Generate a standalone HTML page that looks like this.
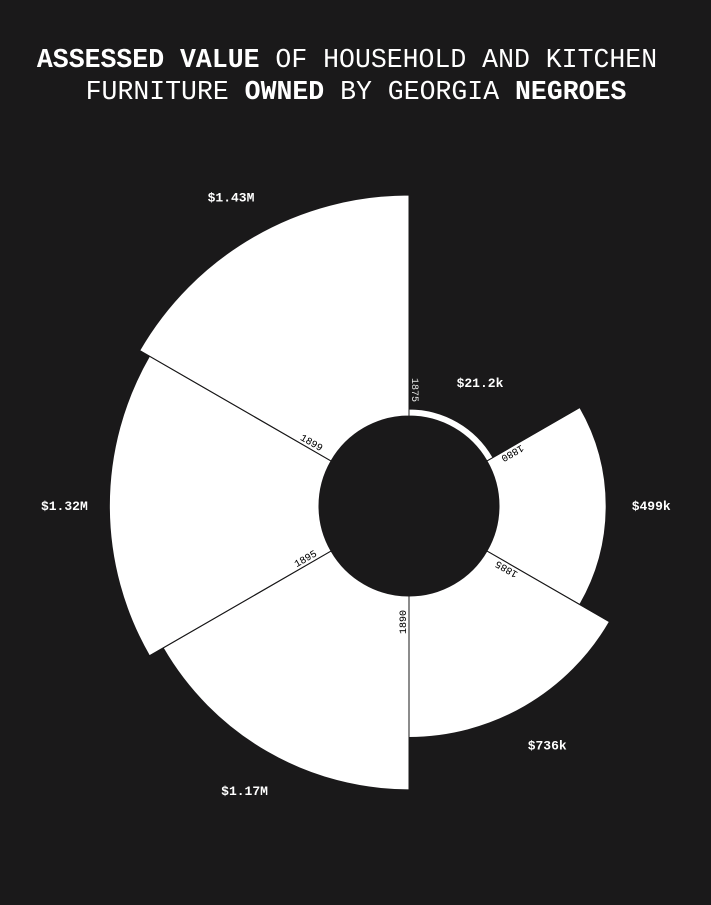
<!DOCTYPE html>
<html><head><meta charset="utf-8"><style>
html,body{margin:0;padding:0;background:#1a191a;}
svg{display:block}
</style></head><body>
<svg id="chart" width="711" height="905" viewBox="0 0 711 905">
<rect width="711" height="905" fill="#1a191a"/>
<text x="347" y="67" text-anchor="middle" font-family="Liberation Mono, monospace" font-size="26.5" fill="#fff"><tspan font-weight="bold">ASSESSED VALUE</tspan> OF HOUSEHOLD AND KITCHEN</text>
<text x="356" y="99" text-anchor="middle" font-family="Liberation Mono, monospace" font-size="26.5" fill="#fff">FURNITURE <tspan font-weight="bold">OWNED</tspan> BY GEORGIA <tspan font-weight="bold">NEGROES</tspan></text>
<g id="sectors"></g>
<g id="labels"></g>
</svg>
<script>
const years = ['1875','1880','1885','1890','1895','1899'];
const values = [21186, 498532, 736170, 1173624, 1322694, 1434975];
const valueLabels = ['$21.2k','$499k','$736k','$1.17M','$1.32M','$1.43M'];
const NS='http://www.w3.org/2000/svg';
const cx=409, cy=506, r0=90, r1=311, maxV=1434975;
function rScale(v){return Math.sqrt(r0*r0+(r1*r1-r0*r0)*v/maxV);}
function aScale(i){return i*2*Math.PI/years.length;}
function pt(a,r){return [cx+r*Math.sin(a), cy-r*Math.cos(a)];}
const gs=document.getElementById('sectors'), gl=document.getElementById('labels');
years.forEach((y,i)=>{
  const a0=aScale(i), a1=aScale(i+1), r=rScale(values[i]);
  const p0=pt(a0,r0),p1=pt(a0,r),p2=pt(a1,r),p3=pt(a1,r0);
  const path=document.createElementNS(NS,'path');
  path.setAttribute('d',`M${p0[0]},${p0[1]}L${p1[0]},${p1[1]}A${r},${r} 0 0 1 ${p2[0]},${p2[1]}L${p3[0]},${p3[1]}A${r0},${r0} 0 0 0 ${p0[0]},${p0[1]}Z`);
  path.setAttribute('fill','#fff');
  path.setAttribute('stroke','#1a191a');
  path.setAttribute('stroke-width','1');
  
  
  gs.appendChild(path);
  const am=(a0+a1)/2, lp=pt(am,r+45);
  const t=document.createElementNS(NS,'text');
  t.setAttribute('x',lp[0]);t.setAttribute('y',lp[1]+4);
  t.setAttribute('text-anchor','middle');
  t.setAttribute('font-family','Liberation Mono, monospace');
  t.setAttribute('font-weight','bold');
  t.setAttribute('font-size','13');
  t.setAttribute('fill','#fff');
  t.textContent=valueLabels[i];
  
  
  gl.appendChild(t);
  const yp=pt(a0,r0+14);
  const yt=document.createElementNS(NS,'text');
  const deg=a0*180/Math.PI+90;
  yt.setAttribute('transform',`translate(${yp[0]},${yp[1]}) rotate(${deg})`);
  yt.setAttribute('x',0);yt.setAttribute('y',-3);
  yt.setAttribute('text-anchor','end');
  yt.setAttribute('font-family','Liberation Mono, monospace');
  yt.setAttribute('font-size','10');
  yt.setAttribute('fill','#fff');
  yt.setAttribute('style','mix-blend-mode:difference');
  yt.textContent=y;
  
  
  gl.appendChild(yt);
});
// boundary lines from inner radius to outer edge
years.forEach((y,i)=>{
  const a=aScale(i), rr=Math.max(rScale(values[i]), rScale(values[(i+years.length-1)%years.length]));
  const p0=pt(a,r0), p1=pt(a,rr);
  const l=document.createElementNS(NS,'line');
  l.setAttribute('x1',p0[0]);l.setAttribute('y1',p0[1]);l.setAttribute('x2',p1[0]);l.setAttribute('y2',p1[1]);
  l.setAttribute('stroke','#1a191a');l.setAttribute('stroke-width','1');
  
  
  gs.appendChild(l);
});
</script>
</body></html>
